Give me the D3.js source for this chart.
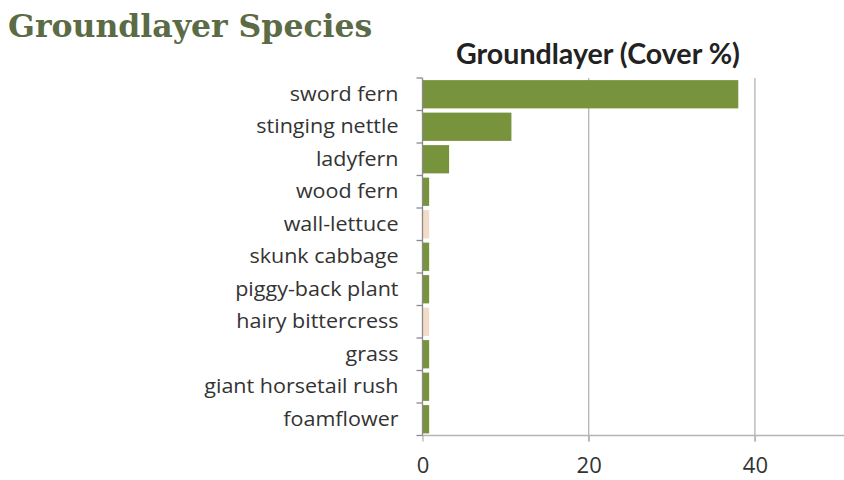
<!DOCTYPE html>
<html><head><meta charset="utf-8">
<script src="https://cdn.jsdelivr.net/npm/d3@7"></script>
<style>body{margin:0;background:#fff;}svg{display:block;}</style>
</head><body>
<svg id="c" width="844" height="480"></svg>
<script>
const categories = ["sword fern","stinging nettle","ladyfern","wood fern","wall-lettuce","skunk cabbage","piggy-back plant","hairy bittercress","grass","giant horsetail rush","foamflower"];
const values = [38.0, 10.7, 3.2, 0.8, 0.8, 0.8, 0.8, 0.8, 0.8, 0.8, 0.8];
const barColors = ["#77933c","#77933c","#77933c","#77933c","#f2dcc8","#77933c","#77933c","#f2dcc8","#77933c","#77933c","#77933c"];
const xTicks = [0, 20, 40];
const pageTitle = "Groundlayer Species";
const chartTitle = "Groundlayer (Cover %)";

const svg = d3.select("#c");
const pL = 422.5, pR = 838, pT = 78, pB = 435.5;
const x = d3.scaleLinear().domain([0, 50]).range([pL, pR]);
const y = d3.scaleBand().domain(categories).range([pT, pB]).paddingInner(0.13).paddingOuter(0.065);

svg.append("text").attr("x", 8).attr("y", 37)
  .attr("font-family", "'DejaVu Serif', serif").attr("font-weight", "bold")
  .attr("font-size", 31.5).attr("fill", "#5b6b45").text(pageTitle);

svg.append("text").attr("x", 598).attr("y", 64).attr("text-anchor", "middle")
  .attr("font-family", "Lato, 'Open Sans', sans-serif").attr("font-weight", "bold")
  .attr("font-size", 28.6).attr("fill", "#222").text(chartTitle);

// gridlines
svg.append("g").selectAll("line").data(xTicks.filter(d => d > 0)).join("line")
  .attr("x1", d => x(d)).attr("x2", d => x(d)).attr("y1", pT).attr("y2", pB + 6)
  .attr("stroke", "#b5b5b5").attr("stroke-width", 1.3);

// bars
svg.append("g").selectAll("rect").data(categories).join("rect")
  .attr("x", x(0)).attr("y", d => y(d))
  .attr("width", (d, i) => x(values[i]) - x(0)).attr("height", y.bandwidth())
  .attr("fill", (d, i) => barColors[i]);

// x axis
const xAxis = svg.append("g").attr("transform", `translate(0,${pB})`)
  .call(d3.axisBottom(x).tickValues(xTicks).tickSize(6).tickPadding(16).tickFormat(d3.format("d")));
xAxis.select(".domain").attr("d", `M${pL},0H844`).attr("stroke", "#b5b5b5").attr("stroke-width", 1.3);
xAxis.selectAll(".tick line").attr("stroke", "#b5b5b5").attr("stroke-width", 1.3);
xAxis.selectAll(".tick text").attr("font-family", "'Open Sans', sans-serif").attr("font-size", 22).attr("fill", "#333");

// y axis
const sx = 1.05;
const yAxis = svg.append("g").attr("transform", `translate(${pL},0)`)
  .call(d3.axisLeft(y).tickSize(0).tickPadding(23));
yAxis.select(".domain").attr("d", `M0,${pT}V${pB}`).attr("stroke", "#8a8a8a").attr("stroke-width", 1.3);
yAxis.selectAll(".tick text").attr("font-family", "'Open Sans', sans-serif").attr("font-size", 20.5).attr("fill", "#333")
  .attr("x", -24 / sx).attr("transform", `scale(${sx},1)`);
// category boundary ticks
const bounds = d3.range(categories.length + 1).map(i => pT + i * (pB - pT) / categories.length);
yAxis.append("g").selectAll("line").data(bounds).join("line")
  .attr("x1", -6).attr("x2", 0).attr("y1", d => d).attr("y2", d => d)
  .attr("stroke", "#8a8a8a").attr("stroke-width", 1.3);
</script>
</body></html>
